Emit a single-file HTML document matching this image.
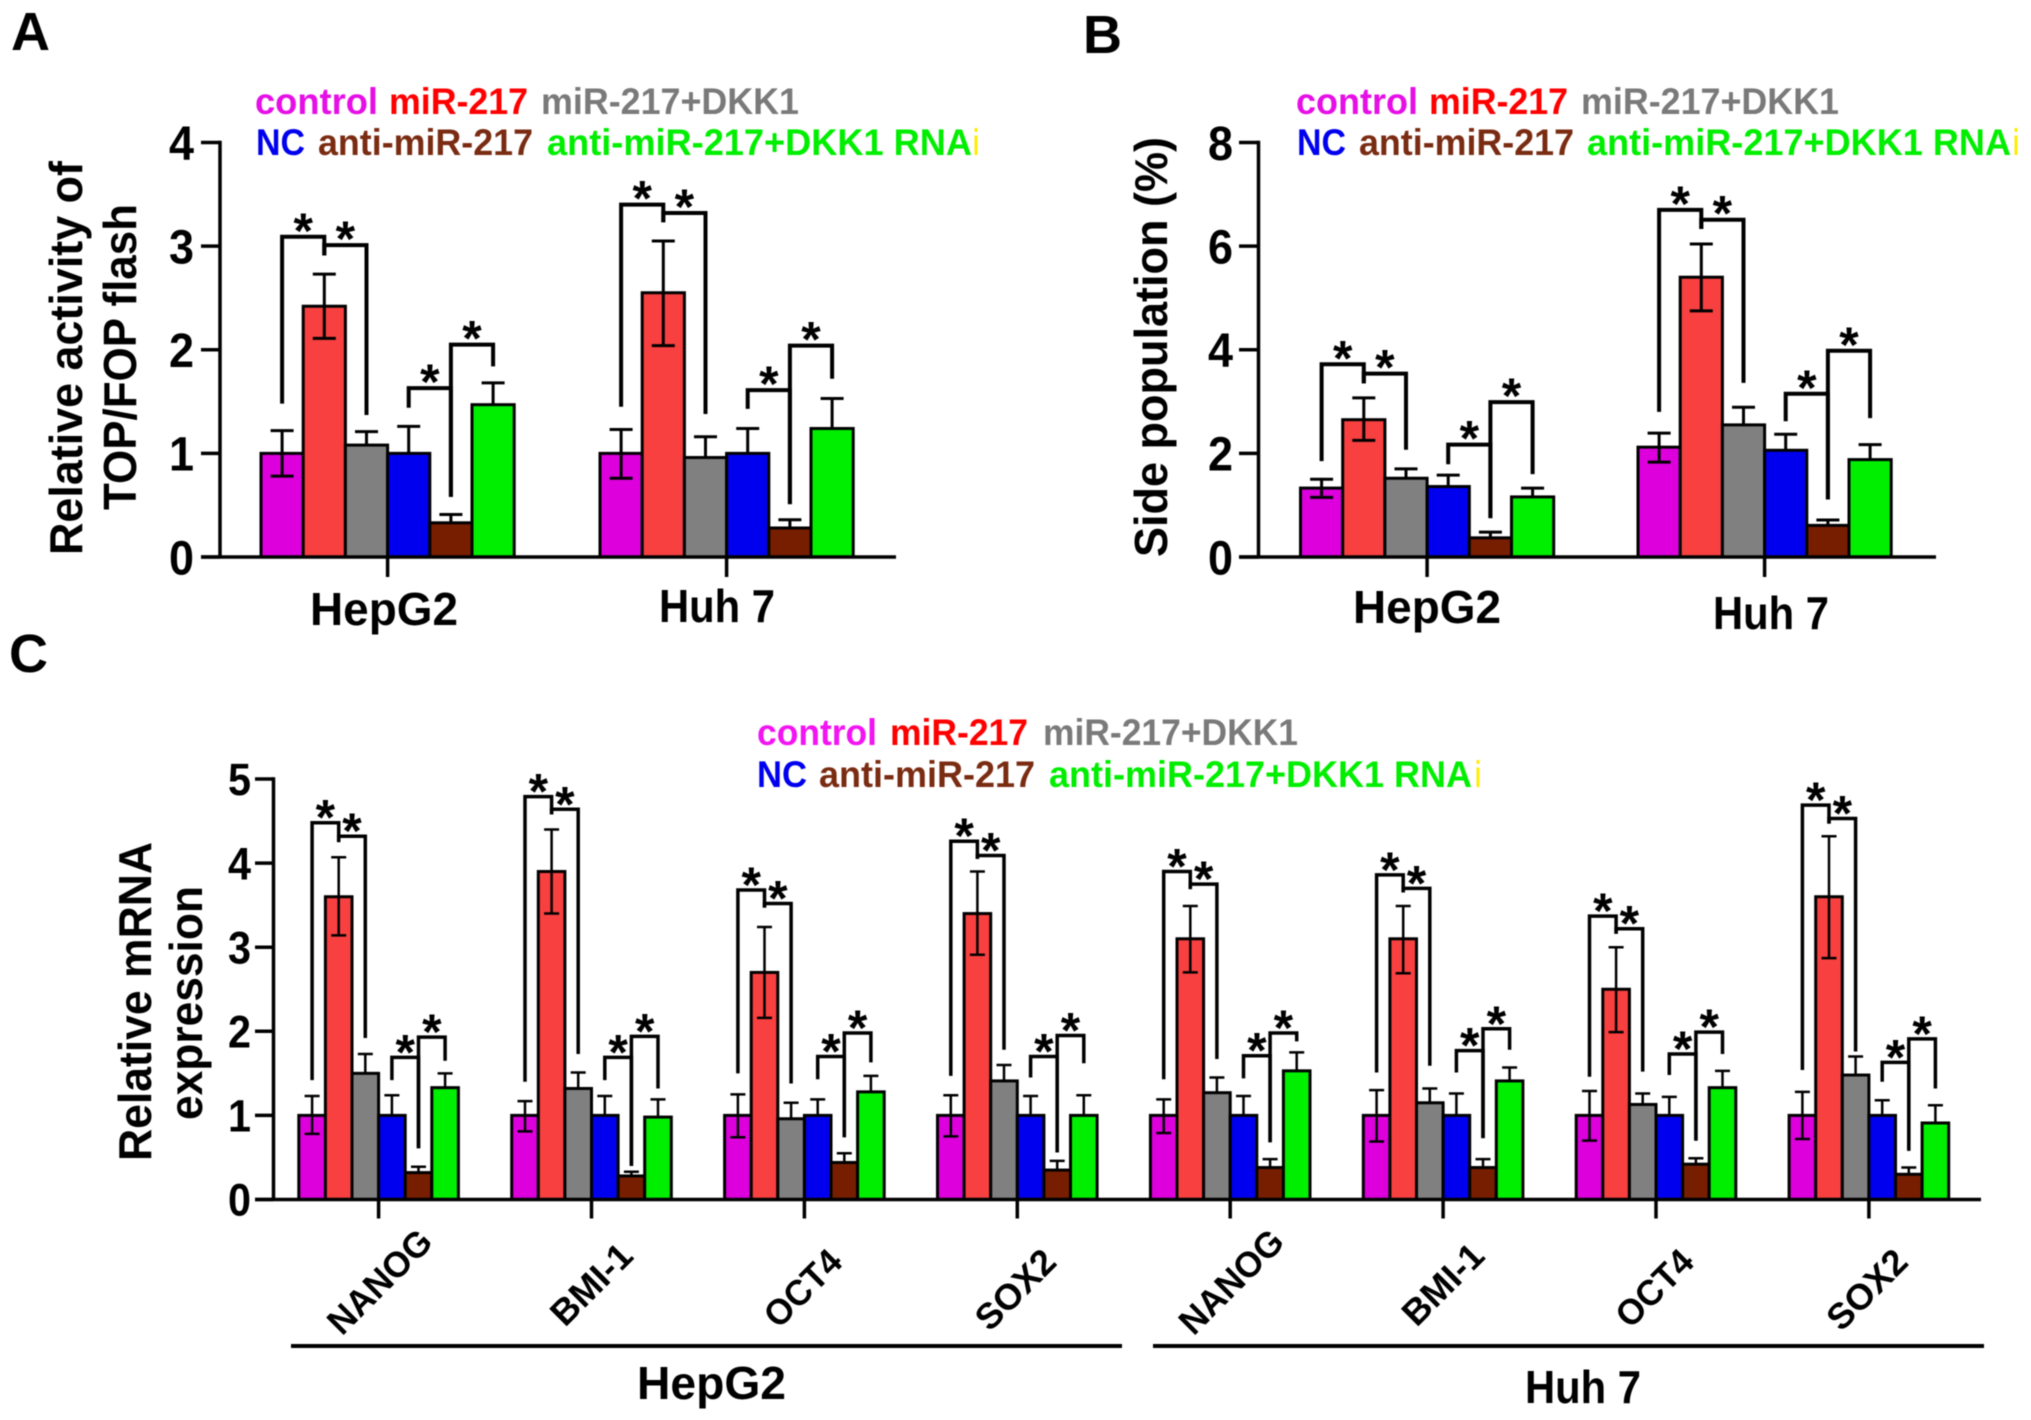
<!DOCTYPE html>
<html lang="en">
<head>
<meta charset="utf-8">
<title>miR-217 DKK1 figure</title>
<style>
html,body{margin:0;padding:0;background:#fff;}
svg{display:block;font-family:"Liberation Sans",sans-serif;font-weight:bold;filter:blur(0.5px);}
</style>
</head>
<body>
<svg id="figure" xmlns="http://www.w3.org/2000/svg" width="2031" height="1420" viewBox="0 0 2031 1420">
<rect x="0" y="0" width="2031" height="1420" fill="#fff"/>

<text x="11" y="50" font-size="54" fill="#000">A</text>
<text x="1083" y="53" font-size="54" fill="#000">B</text>
<text x="9" y="672" font-size="54" fill="#000">C</text>

<g font-size="37">
<text x="255" y="114" textLength="123" lengthAdjust="spacingAndGlyphs" fill="#e60fe6">control</text>
<text x="389" y="114" textLength="139" lengthAdjust="spacingAndGlyphs" fill="#f00">miR-217</text>
<text x="541" y="114" textLength="258" lengthAdjust="spacingAndGlyphs" fill="#7a7a7a">miR-217+DKK1</text>
<text x="256" y="155" textLength="49" lengthAdjust="spacingAndGlyphs" fill="#0000ee">NC</text>
<text x="318" y="155" textLength="215" lengthAdjust="spacingAndGlyphs" fill="#7a2c12">anti-miR-217</text>
<text x="547" y="155" textLength="425" lengthAdjust="spacingAndGlyphs" fill="#00ee00">anti-miR-217+DKK1 RNA</text>
<text x="973" y="155" textLength="6" lengthAdjust="spacingAndGlyphs" fill="#ffee00">i</text>
</g>
<g font-size="37">
<text x="1296" y="114" textLength="122" lengthAdjust="spacingAndGlyphs" fill="#e60fe6">control</text>
<text x="1429" y="114" textLength="139" lengthAdjust="spacingAndGlyphs" fill="#f00">miR-217</text>
<text x="1581" y="114" textLength="258" lengthAdjust="spacingAndGlyphs" fill="#7a7a7a">miR-217+DKK1</text>
<text x="1297" y="155" textLength="49" lengthAdjust="spacingAndGlyphs" fill="#0000ee">NC</text>
<text x="1359" y="155" textLength="215" lengthAdjust="spacingAndGlyphs" fill="#7a2c12">anti-miR-217</text>
<text x="1587" y="155" textLength="424" lengthAdjust="spacingAndGlyphs" fill="#00ee00">anti-miR-217+DKK1 RNA</text>
<text x="2013" y="155" textLength="6" lengthAdjust="spacingAndGlyphs" fill="#ffee00">i</text>
</g>
<g font-size="37">
<text x="757" y="745" textLength="120" lengthAdjust="spacingAndGlyphs" fill="#f214f2">control</text>
<text x="890" y="745" textLength="138" lengthAdjust="spacingAndGlyphs" fill="#f00">miR-217</text>
<text x="1043" y="745" textLength="255" lengthAdjust="spacingAndGlyphs" fill="#7a7a7a">miR-217+DKK1</text>
<text x="757" y="787" textLength="50" lengthAdjust="spacingAndGlyphs" fill="#0000ee">NC</text>
<text x="819" y="787" textLength="216" lengthAdjust="spacingAndGlyphs" fill="#7a2c12">anti-miR-217</text>
<text x="1049" y="787" textLength="423" lengthAdjust="spacingAndGlyphs" fill="#00ee00">anti-miR-217+DKK1 RNA</text>
<text x="1475" y="787" textLength="6" lengthAdjust="spacingAndGlyphs" fill="#ffee00">i</text>
</g>

<text transform="translate(82,555) rotate(-90)" font-size="46" textLength="394" lengthAdjust="spacingAndGlyphs">Relative activity of</text>
<text transform="translate(136,510) rotate(-90)" font-size="46" textLength="306" lengthAdjust="spacingAndGlyphs">TOP/FOP flash</text>
<text transform="translate(1167,557) rotate(-90)" font-size="46" textLength="420" lengthAdjust="spacingAndGlyphs">Side population (%)</text>
<text transform="translate(151,1161) rotate(-90)" font-size="46" textLength="319" lengthAdjust="spacingAndGlyphs">Relative mRNA</text>
<text transform="translate(202,1120) rotate(-90)" font-size="46" textLength="234" lengthAdjust="spacingAndGlyphs">expression</text>

<text x="310" y="625" font-size="46" textLength="148" lengthAdjust="spacingAndGlyphs">HepG2</text>
<text x="659" y="622" font-size="46" textLength="116" lengthAdjust="spacingAndGlyphs">Huh 7</text>
<text x="1353" y="623" font-size="46" textLength="148" lengthAdjust="spacingAndGlyphs">HepG2</text>
<text x="1713" y="629" font-size="46" textLength="116" lengthAdjust="spacingAndGlyphs">Huh 7</text>

<line x1="291" y1="1346" x2="1122" y2="1346" stroke="#000" stroke-width="4"/>
<line x1="1153" y1="1346" x2="1984" y2="1346" stroke="#000" stroke-width="4"/>
<text x="637" y="1399" font-size="46" textLength="149" lengthAdjust="spacingAndGlyphs">HepG2</text>
<text x="1525" y="1403" font-size="46" textLength="116" lengthAdjust="spacingAndGlyphs">Huh 7</text>
</svg>

<script>
// Shared series names and colours
const seriesNames = ['control', 'mir-217', 'mir-217-dkk1', 'nc', 'anti-mir-217', 'anti-mir-217-dkk1'];
const seriesColors = ['#dd00dd', '#f84040', '#808080', '#0000ee', '#771e00', '#00ee00'];

// Panel A
const aTicks = [0, 1, 2, 3, 4];
const aGroups = ['HepG2', 'Huh7'];
const aMeans = [[1, 2.42, 1.08, 1, 0.33, 1.47], [1, 2.55, 0.96, 1, 0.28, 1.24]];
const aUpper = [[1.22, 2.73, 1.21, 1.26, 0.41, 1.68], [1.23, 3.05, 1.16, 1.24, 0.36, 1.53]];
const aLower = [[0.78, 2.11], [0.76, 2.04]];
const aBrackets = [
  [3.09, 1.48, 2.91, 3.01, 1.37, 1.63, 1.44, 0.58, 2.05, 1.84],
  [3.40, 1.45, 3.23, 3.32, 1.38, 1.61, 1.43, 0.51, 2.04, 1.72]
];

// Panel B
const bTicks = [0, 2, 4, 6, 8];
const bGroups = ['HepG2', 'Huh7'];
const bMeans = [[1.33, 2.65, 1.52, 1.36, 0.37, 1.16], [2.12, 5.4, 2.55, 2.06, 0.61, 1.88]];
const bUpper = [[1.5, 3.07, 1.7, 1.58, 0.48, 1.33], [2.39, 6.04, 2.89, 2.37, 0.715, 2.17]];
const bLower = [[1.15, 2.25], [1.83, 4.75]];
const bBrackets = [
  [3.72, 1.85, 3.35, 3.54, 2.07, 2.17, 1.79, 0.75, 2.99, 1.6],
  [6.70, 2.80, 6.33, 6.51, 3.36, 3.15, 2.62, 1.11, 3.98, 2.68]
];

// Panel C
const cTicks = [0, 1, 2, 3, 4, 5];
const cGroups = ['NANOG', 'BMI-1', 'OCT4', 'SOX2', 'NANOG', 'BMI-1', 'OCT4', 'SOX2'];
const cMeans = [
  [1, 3.6, 1.5, 1, 0.32, 1.33],
  [1, 3.9, 1.32, 1, 0.28, 0.98],
  [1, 2.7, 0.96, 1, 0.44, 1.28],
  [1, 3.4, 1.41, 1, 0.35, 1],
  [1, 3.1, 1.27, 1, 0.38, 1.53],
  [1, 3.1, 1.15, 1, 0.38, 1.41],
  [1, 2.5, 1.13, 1, 0.42, 1.33],
  [1, 3.6, 1.48, 1, 0.3, 0.91]
];
const cUpper = [
  [1.23, 4.07, 1.73, 1.24, 0.39, 1.5],
  [1.17, 4.4, 1.51, 1.23, 0.33, 1.19],
  [1.25, 3.24, 1.15, 1.19, 0.55, 1.47],
  [1.24, 3.9, 1.6, 1.23, 0.46, 1.24],
  [1.19, 3.49, 1.45, 1.23, 0.48, 1.75],
  [1.3, 3.49, 1.32, 1.26, 0.48, 1.57],
  [1.29, 3.0, 1.26, 1.22, 0.49, 1.53],
  [1.28, 4.32, 1.7, 1.18, 0.38, 1.12]
];
const cLower = [[0.78, 3.14], [0.81, 3.4], [0.74, 2.16], [0.75, 2.91], [0.79, 2.7], [0.69, 2.69], [0.7, 1.99], [0.72, 2.87]];
const cBrackets = [
  [4.48, 1.42, 4.25, 4.32, 1.92, 1.69, 1.42, 0.61, 1.93, 1.65],
  [4.79, 1.40, 4.58, 4.64, 1.73, 1.69, 1.42, 0.40, 1.94, 1.32],
  [3.68, 1.50, 3.47, 3.52, 1.38, 1.70, 1.43, 0.74, 1.98, 1.63],
  [4.26, 1.47, 4.05, 4.09, 1.78, 1.70, 1.45, 0.56, 1.95, 1.62],
  [3.90, 1.43, 3.69, 3.75, 1.67, 1.71, 1.44, 0.68, 1.98, 1.88],
  [3.86, 1.51, 3.65, 3.70, 1.59, 1.77, 1.51, 0.73, 2.03, 1.78],
  [3.37, 1.46, 3.16, 3.22, 1.52, 1.73, 1.48, 0.70, 1.99, 1.73],
  [4.69, 1.54, 4.47, 4.53, 1.76, 1.63, 1.40, 0.58, 1.91, 1.32]
];
const cLabelLengths = [131, 99, 93, 97, 131, 99, 93, 97];

const svgNS = 'http://www.w3.org/2000/svg';
const root = document.getElementById('figure');

function make(parent, tag, attrs) {
  const el = document.createElementNS(svgNS, tag);
  for (const k in attrs) el.setAttribute(k, attrs[k]);
  parent.appendChild(el);
  return el;
}

function drawPanel(p) {
  const g = make(root, 'g', {});
  
  

  const yScale = v => p.y0 - (v - p.ticks[0]) * (p.y0 - p.yTop) / (p.ticks[p.ticks.length - 1] - p.ticks[0]);
  const barLeft = (gi, si) => p.groupStart[gi] + si * p.barStep;
  const barCenter = (gi, si) => barLeft(gi, si) + p.barStep / 2;

  p.means.forEach((row, gi) => {
    // bars
    row.forEach((v, si) => {
      const bar = make(g, 'rect', {
        x: barLeft(gi, si), y: yScale(v), width: p.barStep, height: p.y0 - yScale(v),
        fill: seriesColors[si], stroke: '#000', 'stroke-width': p.barStroke
      });
      
      
    });
    // error bars
    row.forEach((v, si) => {
      const cx = barCenter(gi, si);
      const hasLower = si < p.lower[gi].length;
      const lowY = hasLower ? yScale(p.lower[gi][si]) : yScale(v);
      const upY = yScale(p.upper[gi][si]);
      let d = 'M' + cx + ' ' + lowY + 'L' + cx + ' ' + upY;
      d += 'M' + (cx - p.cap) + ' ' + upY + 'L' + (cx + p.cap) + ' ' + upY;
      if (hasLower) d += 'M' + (cx - p.cap) + ' ' + lowY + 'L' + (cx + p.cap) + ' ' + lowY;
      const err = make(g, 'path', { d: d, fill: 'none', stroke: '#000', 'stroke-width': p.errStroke });
      
      
    });
    // significance brackets
    const b = p.brackets[gi];
    const spans = [
      [0, 1, b[0], b[1], b[2]],
      [1, 2, b[3], b[2], b[4]],
      [3, 4, b[5], b[6], b[7]],
      [4, 5, b[8], b[7], b[9]]
    ];
    spans.forEach(s => {
      const xa = barCenter(gi, s[0]);
      const xb = barCenter(gi, s[1]);
      const top = yScale(s[2]);
      const br = make(g, 'path', {
        d: 'M' + xa + ' ' + yScale(s[3]) + 'L' + xa + ' ' + top + 'L' + xb + ' ' + top + 'L' + xb + ' ' + yScale(s[4]),
        fill: 'none', stroke: '#000', 'stroke-width': p.bracketStroke, 'stroke-linejoin': 'miter'
      });
      
      
      const star = make(g, 'text', {
        x: (xa + xb) / 2, y: top + p.starDy, 'text-anchor': 'middle', 'font-size': p.starSize, fill: '#000'
      });
      star.textContent = '*';
      
      
    });
    // x tick
    const tx = barCenter(gi, 2) + p.barStep / 2;
    const xt = make(g, 'line', { x1: tx, y1: p.y0, x2: tx, y2: p.y0 + p.tickDown, stroke: '#000', 'stroke-width': p.axisStroke });
    
    
  });

  // axes
  const xAxis = make(g, 'line', { x1: p.xStart, y1: p.y0, x2: p.xEnd, y2: p.y0, stroke: '#000', 'stroke-width': p.axisStroke });
  
  
  const yAxis = make(g, 'line', { x1: p.axisX, y1: p.yTop - p.axisStroke / 2, x2: p.axisX, y2: p.y0, stroke: '#000', 'stroke-width': p.axisStroke });
  
  

  p.ticks.forEach(t => {
    const ty = yScale(t);
    const tk = make(g, 'line', { x1: p.xStart, y1: ty, x2: p.axisX, y2: ty, stroke: '#000', 'stroke-width': p.axisStroke });
    
    
    const lb = make(g, 'text', {
      x: p.labelX, y: ty + p.tickFont * 0.36, 'text-anchor': 'end', 'font-size': p.tickFont, fill: '#000',
      textLength: p.tickWidth, lengthAdjust: 'spacingAndGlyphs'
    });
    lb.textContent = String(t);
    
    
  });
}

drawPanel({
  id: 'a', ticks: aTicks, groups: aGroups, means: aMeans, upper: aUpper, lower: aLower, brackets: aBrackets,
  y0: 557, yTop: 142.5, axisX: 220, xStart: 201, xEnd: 896, labelX: 194, tickFont: 48, tickWidth: 25,
  groupStart: [261, 600], barStep: 42.2, barStroke: 3, errStroke: 3, bracketStroke: 4, axisStroke: 3.5,
  cap: 11.5, tickDown: 20, starSize: 50, starDy: 11
});
drawPanel({
  id: 'b', ticks: bTicks, groups: bGroups, means: bMeans, upper: bUpper, lower: bLower, brackets: bBrackets,
  y0: 557, yTop: 142.5, axisX: 1258.5, xStart: 1239, xEnd: 1936, labelX: 1233, tickFont: 48, tickWidth: 25,
  groupStart: [1300.5, 1638], barStep: 42.2, barStroke: 3, errStroke: 3, bracketStroke: 4, axisStroke: 3.5,
  cap: 11.5, tickDown: 20, starSize: 50, starDy: 11
});
drawPanel({
  id: 'c', ticks: cTicks, groups: cGroups, means: cMeans, upper: cUpper, lower: cLower, brackets: cBrackets,
  y0: 1199.5, yTop: 779, axisX: 273.5, xStart: 255, xEnd: 1981, labelX: 251, tickFont: 45, tickWidth: 23,
  groupStart: [298.8, 511.7, 724.6, 937.5, 1150.4, 1363.3, 1576.2, 1789.1], barStep: 26.6,
  barStroke: 3, errStroke: 2.5, bracketStroke: 3.5, axisStroke: 3.5,
  cap: 7.5, tickDown: 19, starSize: 50, starDy: 12
});

// Panel C rotated category labels
const cLabelOffsets = { 'NANOG': [56, 1244], 'BMI-1': [43.5, 1258], 'OCT4': [40, 1264], 'SOX2': [41, 1264] };
cGroups.forEach((name, i) => {
  const tx = 298.8 + 212.9 * i + 26.6 * 3;
  const off = cLabelOffsets[name];
  const t = make(root, 'text', {
    transform: 'translate(' + (tx + off[0]) + ',' + off[1] + ') rotate(-45)',
    'text-anchor': 'end', 'font-size': 36, textLength: cLabelLengths[i], lengthAdjust: 'spacingAndGlyphs', fill: '#000'
  });
  t.textContent = name;
  
  
});
</script>
</body>
</html>
